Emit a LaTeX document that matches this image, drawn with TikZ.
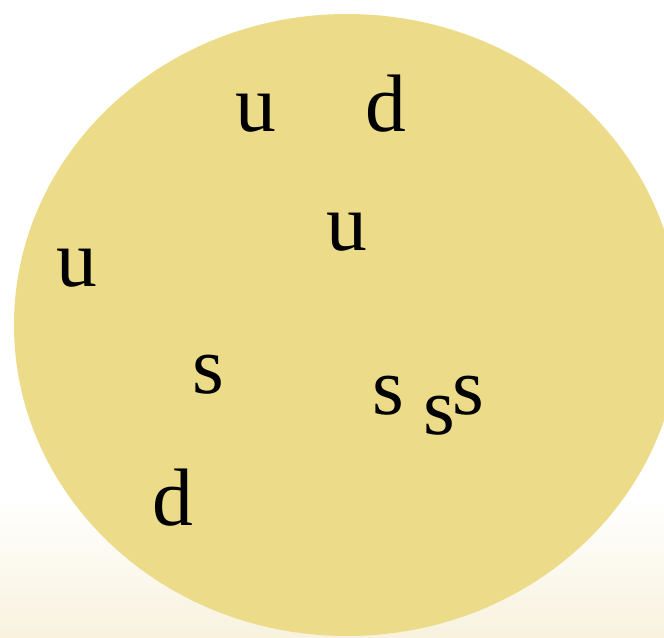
\documentclass[tikz,border=0pt]{standalone}
\usepackage{fontspec}
\setmainfont{Liberation Serif}
\definecolor{bagfill}{RGB}{236,219,137}
\definecolor{cream}{RGB}{248,242,222}
\begin{document}
\begin{tikzpicture}[quark/.style={anchor=base, inner sep=0pt, font=\fontsize{58}{62}\selectfont}]
	% Hintergrund
	\useasboundingbox (0,0) rectangle (16.6,15.925);
	\fill[white] (0,0) rectangle (16.6,15.925);
	\shade[top color=white, bottom color=cream] (0,0) rectangle (16.6,3.5);
	% Beutel
	\begin{scope}
		\clip (0,0) rectangle (16.6,15.925);
		\fill[bagfill] (8.675,7.8) ellipse (8.325 and 7.775);
	\end{scope}
	% Quarks
	\foreach \n/\q/\x/\y in {ua/u/6.39/12.625, da/d/9.65/12.625, ub/u/8.66/9.675,
		uc/u/1.93/8.75, sa/s/5.22/6.1, sb/s/9.7/5.575, sc/s/10.98/5.075,
		sd/s/11.7/5.575, db/d/4.31/2.8}
	\node[quark] (\n) at (\x,\y) {\q};
\end{tikzpicture}
\end{document}
